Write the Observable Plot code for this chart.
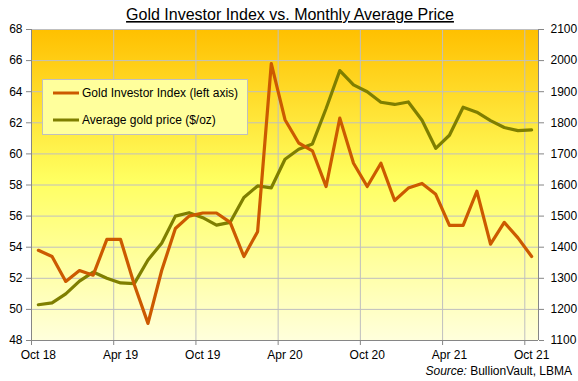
<!DOCTYPE html>
<html>
<head>
<meta charset="utf-8">
<script src="https://cdn.jsdelivr.net/npm/d3@7"></script>
<script src="https://cdn.jsdelivr.net/npm/@observablehq/plot@0.6"></script>
<style>
  html, body { margin: 0; padding: 0; background: white; }
  #chart { width: 578px; height: 381px; }
</style>
</head>
<body>
<div id="chart"></div>
<script>
// ---- data (Oct 2018 .. Oct 2021, monthly) ----
const xTickLabels = ["Oct 18", "Apr 19", "Oct 19", "Apr 20", "Oct 20", "Apr 21", "Oct 21"];
const investorIndex = [
  53.8, 53.4, 51.8, 52.5, 52.2, 54.5, 54.5, 51.6, 49.1, 52.5, 55.2, 56.0,
  56.2, 56.2, 55.6, 53.4, 55.0, 65.8, 62.2, 60.7, 60.2, 57.9, 62.3, 59.4,
  57.9, 59.4, 57.0, 57.8, 58.1, 57.4, 55.4, 55.4, 57.6, 54.2, 55.6, 54.6, 53.4
];
const goldPrice = [
  1215, 1221, 1250, 1291, 1320, 1300, 1285, 1283, 1359, 1413, 1500, 1511,
  1495, 1471, 1480, 1560, 1597, 1591, 1683, 1715, 1732, 1846, 1968, 1922,
  1900, 1866, 1859, 1867, 1808, 1718, 1760, 1850, 1834, 1807, 1785, 1775, 1777
];
const leftTicks = [48, 50, 52, 54, 56, 58, 60, 62, 64, 66, 68];
const seriesNames = ["Gold Investor Index (left axis)", "Average gold price ($/oz)"];
const seriesColors = ["#CC5A00", "#7F7F00"];
const titleText = "Gold Investor Index vs. Monthly Average Price";

// ---- derived ----
const data = investorIndex.map((v, i) => ({i, index: v, gold: goldPrice[i]}));
const nMonths = investorIndex.length;
// secondary axis mapping: 1100..2100 -> 48..68
const goldToLeft = p => 48 + (p - 1100) / 50;
const leftToGold = v => 1100 + (v - 48) * 50;

const gridColor = "#BFBFBF";
const axisColor = "#868686";

function defsMark() {
  const defs = d3.create("svg:defs");
  const grad = defs.append("linearGradient").attr("id", "bggrad")
    .attr("x1", 0).attr("y1", 0).attr("x2", 0).attr("y2", 1);
  grad.append("stop").attr("offset", "0%").attr("stop-color", "#FFC000");
  grad.append("stop").attr("offset", "48%").attr("stop-color", "#FFFF60");
  grad.append("stop").attr("offset", "100%").attr("stop-color", "#FFFFDC");
  return defs.node();
}

function legendMark() {
  const g = d3.create("svg:g").attr("text-anchor", "start");
  g.append("rect").attr("x", 42.5).attr("y", 79.5).attr("width", 205).attr("height", 55)
    .attr("fill", "#FFFF9C").attr("stroke", gridColor);
  seriesNames.forEach((name, k) => {
    const y = 93 + k * 27;
    g.append("line").attr("x1", 53).attr("x2", 79).attr("y1", y).attr("y2", y)
      .attr("stroke", seriesColors[k]).attr("stroke-width", 3);
    g.append("text").attr("x", 82).attr("y", y).attr("dy", "0.35em")
      .attr("text-anchor", "start")
      .attr("font-size", 12).attr("fill", "black").text(name);
  });
  return g.node();
}

function textMark() {
  const g = d3.create("svg:g");
  g.append("text").attr("x", 290).attr("y", 20).attr("text-anchor", "middle")
    .attr("font-size", 16).attr("fill", "black").attr("text-decoration", "underline")
    .text(titleText);
  const s = g.append("text").attr("x", 572).attr("y", 375).attr("text-anchor", "end")
    .attr("font-size", 12).attr("fill", "black");
  s.append("tspan").attr("font-style", "italic").text("Source:");
  s.append("tspan").text(" BullionVault, LBMA");
  return g.node();
}

const gridX = d3.range(0, nMonths, 6);

const chart = Plot.plot({
  width: 578,
  height: 381,
  marginTop: 29,
  marginBottom: 41,
  marginLeft: 31,
  marginRight: 40,
  style: {fontFamily: "'Liberation Sans', Arial, sans-serif", fontSize: "12px", color: "black", background: "white", overflow: "visible"},
  x: {domain: [0, nMonths]},
  y: {domain: [48, 68]},
  marks: [
    defsMark,
    Plot.frame({fill: "url(#bggrad)", stroke: "none"}),
    Plot.ruleY(leftTicks, {stroke: gridColor, strokeWidth: 1}),
    Plot.ruleX(gridX, {stroke: gridColor, strokeWidth: 1}),
    Plot.ruleX([0, nMonths], {stroke: axisColor, strokeWidth: 1}),
    Plot.ruleY([48], {stroke: axisColor, strokeWidth: 1}),
    Plot.axisY(leftTicks, {anchor: "left", tickSize: 5, tickPadding: 4, stroke: axisColor, fill: "black", fontSize: 12, label: null}),
    Plot.axisY(leftTicks, {anchor: "right", tickSize: 5, tickPadding: 7, stroke: axisColor, fill: "black", fontSize: 12, label: null, tickFormat: d => String(leftToGold(d))}),
    Plot.axisX(gridX, {anchor: "bottom", tickSize: 5, stroke: axisColor, tickFormat: () => "", label: null}),
    Plot.axisX(gridX.map(d => d + 0.5), {anchor: "bottom", tickSize: 0, tickPadding: 10, fill: "black", fontSize: 12, label: null, tickFormat: (d, k) => xTickLabels[k]}),
    Plot.line(data, {x: d => d.i + 0.5, y: d => goldToLeft(d.gold), stroke: seriesColors[1], strokeWidth: 3.2}),
    Plot.line(data, {x: d => d.i + 0.5, y: "index", stroke: seriesColors[0], strokeWidth: 3.2}),
    legendMark,
    textMark
  ]
});

document.getElementById("chart").appendChild(chart);
</script>
</body>
</html>
